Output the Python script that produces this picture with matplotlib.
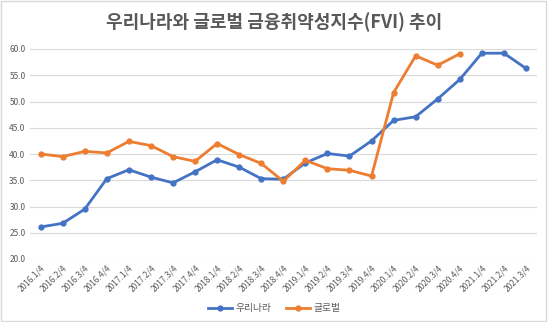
import matplotlib
matplotlib.use('Agg')
import matplotlib.pyplot as plt
from matplotlib.patches import Rectangle

plt.rcParams['font.family'] = ['Noto Sans CJK KR', 'DejaVu Sans']

quarters = ['2016.1/4', '2016.2/4', '2016.3/4', '2016.4/4',
            '2017.1/4', '2017.2/4', '2017.3/4', '2017.4/4',
            '2018.1/4', '2018.2/4', '2018.3/4', '2018.4/4',
            '2019.1/4', '2019.2/4', '2019.3/4', '2019.4/4',
            '2020.1/4', '2020.2/4', '2020.3/4', '2020.4/4',
            '2021.1/4', '2021.2/4', '2021.3/4']

korea = [26.1, 26.8, 29.5, 35.3, 37.0, 35.6, 34.5, 36.6, 38.9, 37.5, 35.3, 35.2,
         38.3, 40.1, 39.6, 42.5, 46.4, 47.1, 50.5, 54.2, 59.2, 59.2, 56.3]
glob = [40.0, 39.5, 40.5, 40.2, 42.4, 41.6, 39.5, 38.6, 42.0, 39.9, 38.2, 34.8,
        38.8, 37.2, 36.9, 35.8, 51.7, 58.7, 56.9, 59.1]

yticks = [20, 25, 30, 35, 40, 45, 50, 55, 60]

fig = plt.figure(figsize=(5.48, 3.22), dpi=100)
ax = fig.add_axes([29.6 / 548, 1 - 259 / 322, (537 - 29.6) / 548, (259 - 49) / 322])

x = list(range(len(quarters)))
ax.plot(x, korea, color='#4472C4', lw=2, marker='o', ms=3.5, label='우리나라')
ax.plot(x[:len(glob)], glob, color='#ED7D31', lw=2, marker='o', ms=3.5, label='글로벌')

ax.set_xlim(-0.5, len(quarters) - 0.5)
ax.set_ylim(20, 60)
ax.set_yticks(yticks)
ax.set_yticklabels([f'{v:.1f}' for v in yticks], fontsize=6, color='#595959')
ax.set_xticks(x)
ax.set_xticklabels(quarters, fontsize=6, color='#595959', rotation=45,
                   ha='right', rotation_mode='anchor')
ax.tick_params(length=0, pad=3)
ax.grid(axis='y', color='#D9D9D9', lw=0.8)
ax.set_axisbelow(True)
for s in ax.spines.values():
    s.set_visible(False)

fig.suptitle('우리나라와 글로벌 금융취약성지수(FVI) 추이', x=0.5, y=0.962,
             fontsize=13, fontweight='bold', color='#595959', va='top')

fig.legend(loc='center', bbox_to_anchor=(0.5, 1 - 308 / 322), ncol=2,
           frameon=False, fontsize=7, labelcolor='#595959',
           handlelength=2.5, columnspacing=1.5, handletextpad=0.3)

fig.patches.append(Rectangle((0.002, 0.003), 0.995, 0.994, transform=fig.transFigure,
                             fill=False, ec='#D9D9D9', lw=1))

fig.savefig('out.png', dpi=100)
